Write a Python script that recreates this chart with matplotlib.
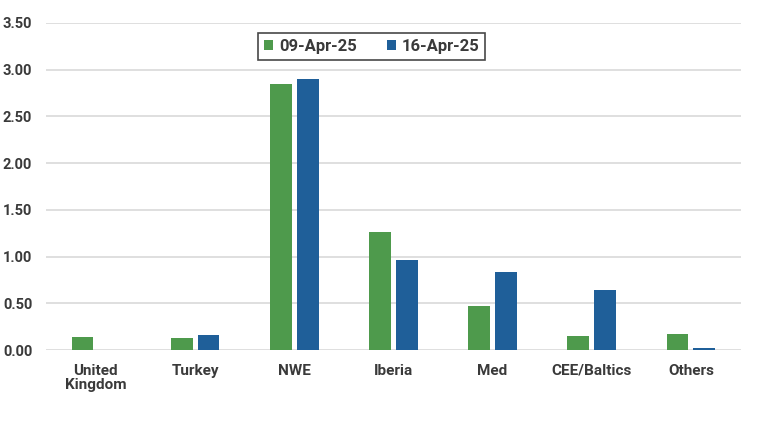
import numpy as np
import matplotlib
matplotlib.use('Agg')
import matplotlib.pyplot as plt

plt.rcParams['font.family'] = ['Roboto', 'DejaVu Sans']

# data
categories = ['United\nKingdom', 'Turkey', 'NWE', 'Iberia', 'Med', 'CEE/Baltics', 'Others']
series_names = ['09-Apr-25', '16-Apr-25']
apr09 = [0.14, 0.13, 2.85, 1.26, 0.47, 0.15, 0.17]
apr16 = [0.00, 0.16, 2.90, 0.96, 0.83, 0.64, 0.02]
yticks = [0.0, 0.5, 1.0, 1.5, 2.0, 2.5, 3.0, 3.5]

green = '#4e9a4c'
blue = '#1f5f99'

fig = plt.figure(figsize=(7.58, 4.24), dpi=100)
ax = fig.add_axes([0.061, 0.1745, 0.916, 0.7713])

x = np.arange(len(categories))
w = 0.22
ax.bar(x - 0.135, apr09, w, color=green, label=series_names[0], zorder=3)
ax.bar(x + 0.135, apr16, w, color=blue, label=series_names[1], zorder=3)

ax.set_xlim(-0.5, len(categories) - 0.5)
ax.set_ylim(0, 3.5)
ax.set_yticks(yticks)
ax.set_yticklabels([f'{v:.2f}' for v in yticks])
ax.set_xticks(x)
ax.set_xticklabels(categories, linespacing=1.05)

ax.grid(axis='y', color='#d9d9d9', linewidth=1.2, zorder=0)
for s in ax.spines.values():
    s.set_visible(False)
ax.tick_params(axis='both', length=0, labelsize=10.5, labelcolor='#3a3a3a')
ax.tick_params(axis='y', pad=10)
ax.tick_params(axis='x', pad=10, labelsize=11)
for lbl in ax.get_xticklabels() + ax.get_yticklabels():
    lbl.set_fontweight('semibold')

leg = ax.legend(loc='upper center', bbox_to_anchor=(0.469, 0.995), ncol=2,
                frameon=True, fancybox=False, fontsize=12,
                handlelength=0.55, handleheight=0.55, handletextpad=0.35,
                columnspacing=1.8, borderpad=0.35)
leg.get_frame().set_edgecolor('#1a1a1a')
leg.get_frame().set_linewidth(1.2)
for t in leg.get_texts():
    t.set_color('#3a3a3a')
    t.set_fontweight('semibold')

fig.savefig('out.png', dpi=100)
